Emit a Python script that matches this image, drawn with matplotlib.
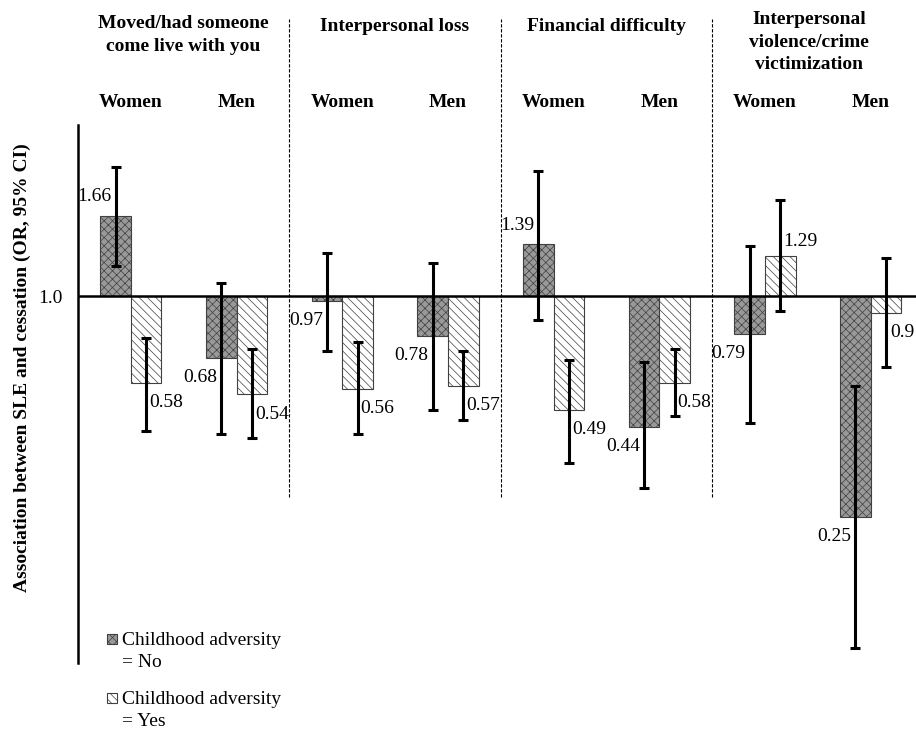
import matplotlib
matplotlib.use("Agg")
import matplotlib.pyplot as plt
import matplotlib.transforms as mtransforms
from matplotlib.patches import Rectangle
from matplotlib.ticker import NullLocator
import numpy as np

plt.rcParams["font.family"] = ["Liberation Serif", "DejaVu Serif"]
plt.rcParams["hatch.linewidth"] = 0.5

# ---- data -------------------------------------------------------------
categories = ["Moved/had someone\ncome live with you", "Interpersonal loss",
              "Financial difficulty", "Interpersonal\nviolence/crime\nvictimization"]
sexes = ["Women", "Men"]

# odds ratios + 95% CI, one value per (category, sex) in order W, M, W, M ...
or_no = [1.66, 0.68, 0.97, 0.78, 1.39, 0.44, 0.79, 0.25]
lo_no = [1.21, 0.42, 0.71, 0.49, 0.86, 0.30, 0.45, 0.11]
hi_no = [2.25, 1.09, 1.31, 1.23, 2.20, 0.66, 1.37, 0.57]
or_yes = [0.58, 0.54, 0.56, 0.57, 0.49, 0.58, 1.29, 0.90]
lo_yes = [0.43, 0.41, 0.42, 0.46, 0.35, 0.47, 0.91, 0.64]
hi_yes = [0.77, 0.72, 0.75, 0.71, 0.67, 0.72, 1.83, 1.27]

legend_labels = ["Childhood adversity\n= No", "Childhood adversity\n= Yes"]

# ---- styling ----------------------------------------------------------
NO_STYLE = dict(facecolor="#999999", edgecolor="#404040", hatch="xxxx", linewidth=0.8)
YES_STYLE = dict(facecolor="white", edgecolor="#404040", hatch=r"\\\\", linewidth=0.8)
W = 0.29

fig = plt.figure(figsize=(9.16, 7.34), dpi=100)
ax = fig.add_axes([78 / 916, 71 / 734, 1 - 78 / 916, 538 / 734])

x = np.arange(len(or_no))
or_no_a, or_yes_a = np.array(or_no), np.array(or_yes)

ax.bar(x - W / 2, or_no_a - 1, bottom=1, width=W, zorder=2, **NO_STYLE)
ax.bar(x + W / 2, or_yes_a - 1, bottom=1, width=W, zorder=2, **YES_STYLE)
ax.axhline(1.0, color="black", lw=1.8, zorder=3)

err_kw = dict(fmt="none", ecolor="black", elinewidth=2.2, capsize=3.5,
              capthick=2.2, zorder=4)
ax.errorbar(x - W / 2, or_no_a, yerr=[or_no_a - np.array(lo_no), np.array(hi_no) - or_no_a], **err_kw)
ax.errorbar(x + W / 2, or_yes_a, yerr=[or_yes_a - np.array(lo_yes), np.array(hi_yes) - or_yes_a], **err_kw)

# value labels: "No" to the left, "Yes" to the right, beyond the bar end
for xs, vals, dx in ((x - W / 2, or_no, -15), (x + W / 2, or_yes, 14.5)):
    for i, (xi, v) in enumerate(zip(xs, vals)):
        dy = 13.5 if v > 1 else -14.3
        if v > 1 and dx > 0:
            dy = 10.5
        ddx = 12.0 if (dx > 0 and i == len(vals) - 1) else dx  # keep last one inside
        ax.annotate(f"{v:g}", (xi, v), xytext=(ddx, dy), textcoords="offset points",
                    ha="center", va="center", fontsize=14, zorder=5,
                    annotation_clip=False)

ax.set_yscale("log")
ax.set_ylim(0.1, 2.93)
ax.set_xlim(-0.50, 7.43)
ax.set_yticks([1.0])
ax.set_yticklabels(["1.0"])
ax.yaxis.set_minor_locator(NullLocator())
ax.tick_params(axis="y", length=0, pad=11, labelsize=14)
ax.set_xticks([])
for s in ("top", "right", "bottom"):
    ax.spines[s].set_visible(False)
ax.spines["left"].set_linewidth(1.8)

trans = mtransforms.blended_transform_factory(ax.transData, ax.transAxes)

# dashed separators between categories
for i in range(1, len(categories)):
    xd = 2 * i - 0.5
    ax.plot([xd, xd], [0.309, 1.197], transform=trans, color="black", lw=0.8,
            ls=(0, (3, 1.5)), clip_on=False)

# category titles and sex labels
title_y = [1.167, 1.184, 1.184, 1.154]
title_x = [0.5, 2.5, 4.5, 6.42]
for cx, cy, cat in zip(title_x, title_y, categories):
    ax.text(cx, cy, cat, transform=trans, ha="center", va="center",
            fontsize=14, fontweight="bold", linespacing=1.42)
for xi in x:
    ax.text(xi, 1.041, sexes[xi % 2], transform=trans, ha="center", va="center",
            fontsize=14, fontweight="bold")

fig.text(22 / 916, 1 - 368 / 734, "Association between SLE and cessation (OR, 95% CI)",
         rotation=90, ha="center", va="center", fontsize=14, fontweight="bold")

# legend drawn by hand so the swatch sits on the first text line
for k, (lab, st) in enumerate(zip(legend_labels, (NO_STYLE, YES_STYLE))):
    ytop = 634 + k * 59
    fig.patches.append(Rectangle((107 / 916, 1 - (ytop + 10) / 734), 10 / 916, 10 / 734,
                                 transform=fig.transFigure, **st))
    fig.text(122 / 916, 1 - (ytop - 2) / 734, lab, ha="left", va="top",
             fontsize=14, linespacing=1.4)

fig.savefig("out.png", dpi=100)
